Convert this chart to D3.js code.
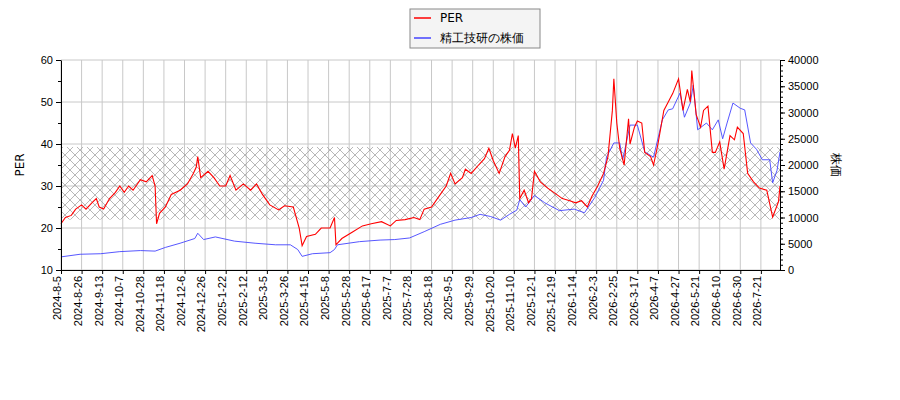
<!DOCTYPE html>
<html><head><meta charset="utf-8">
<script src="https://cdn.jsdelivr.net/npm/d3@7"></script>
<style>body{margin:0;background:#fff}svg{font-family:"DejaVu Sans",sans-serif}</style>
</head><body><svg id="c" width="900" height="400"></svg>
<script>
const tickLabels=["2024-8-5","2024-8-26","2024-9-13","2024-10-7","2024-10-28","2024-11-18","2024-12-6","2024-12-26","2025-1-22","2025-2-12","2025-3-5","2025-3-26","2025-4-15","2025-5-8","2025-5-28","2025-6-17","2025-7-7","2025-7-28","2025-8-18","2025-9-5","2025-9-29","2025-10-20","2025-11-10","2025-12-1","2025-12-19","2026-1-14","2026-2-3","2026-2-25","2026-3-17","2026-4-7","2026-4-27","2026-5-21","2026-6-10","2026-6-30","2026-7-21"];
const tickStep=14, lastDay=489;
const perSeries=[[0,21],[3,22.5],[7,23],[10,24.5],[14,25.5],[17,24.5],[21,26],[24,27],[26,25],[29,24.5],[33,27],[37,28.5],[40,30],[43,28.5],[46,30],[49,29],[54,31.5],[58,31],[62,32.5],[64,30],[65,21],[67,23.5],[71,25],[75,28],[81,29],[86,30.5],[90,33],[92,34.5],[93,37],[95,32],[100,33.5],[104,32],[108,30],[112,30],[115,32.5],[119,29],[124,30.5],[129,29],[133,30.5],[137,28],[142,25.5],[148,24.3],[152,25.3],[158,25],[162,20],[164,15.8],[167,18],[173,18.5],[177,20],[183,20],[186,22.5],[187,16],[191,17.5],[198,19],[205,20.5],[211,21],[218,21.5],[224,20.5],[228,21.8],[234,22],[240,22.5],[244,22],[247,24.5],[252,25],[258,28],[262,30],[265,33],[268,30.5],[273,32],[275,34],[279,33],[284,35],[288,36.5],[291,39],[294,36],[298,33],[302,37],[305,38.5],[307,42.5],[309,39],[311,42],[312,27],[315,29],[318,26],[320,27],[322,33.5],[326,31],[331,29.5],[337,28],[341,27],[346,26.5],[350,26],[354,26.5],[358,25],[361,27.5],[365,30],[369,33],[372,37],[375,48],[376,55.5],[378,45],[380,39],[383,35],[386,46],[387,40],[390,44],[392,45.5],[395,45],[397,38],[401,37],[403,35],[406,40],[410,48],[413,50],[416,52],[420,55.5],[423,48],[426,53],[428,50],[429,57.5],[432,47],[435,44],[437,48],[440,49],[443,38],[445,38],[448,40.5],[451,34],[455,42],[458,41],[460,44],[464,42.5],[467,33],[471,31],[475,29.5],[480,29],[484,22.6],[488,26.3],[489,30]];
const priceSeries=[[0,2500],[13,3000],[27,3100],[40,3500],[54,3700],[64,3600],[71,4300],[81,5100],[91,6000],[93,7000],[97,5800],[105,6300],[118,5500],[132,5100],[146,4800],[156,4800],[161,3900],[164,2600],[171,3100],[183,3300],[186,3900],[188,4800],[203,5400],[217,5700],[227,5800],[237,6100],[247,7300],[258,8700],[268,9500],[279,10000],[285,10600],[292,10200],[299,9500],[305,10600],[310,11400],[312,13400],[316,12000],[322,14200],[329,12800],[339,11300],[349,11600],[356,10900],[363,13800],[369,17100],[371,21500],[376,24200],[380,24200],[382,21000],[387,27600],[392,27600],[397,22500],[403,21500],[409,28600],[413,30500],[416,30700],[421,33700],[424,29100],[428,31800],[430,35200],[433,26700],[439,28000],[443,26700],[447,28600],[450,25000],[453,28000],[457,31800],[462,30800],[465,30500],[469,24200],[473,23000],[477,21000],[482,21000],[484,16600],[487,19000],[489,22500]];
const band=[22,39.3];
const perTicks=[10,20,30,40,50,60], priceTicks=[0,5000,10000,15000,20000,25000,30000,35000,40000];

const svg=d3.select("#c");
const m={l:61,r:780,t:60,b:270};
const x=d3.scaleLinear().domain([0,lastDay]).range([m.l,m.r]);
const y=d3.scaleLinear().domain([10,60]).range([m.b,m.t]);
const y2=d3.scaleLinear().domain([0,40000]).range([m.b,m.t]);
const defs=svg.append("defs");
const p=defs.append("pattern").attr("id","hatch").attr("patternUnits","userSpaceOnUse").attr("width",10).attr("height",10);
p.append("path").attr("d","M0,0L10,10M10,0L0,10").attr("stroke","#999").attr("stroke-width",0.7);
const tickDays=tickLabels.map((_,i)=>i*tickStep);
const g=svg.append("g");
g.selectAll(".vg").data(tickDays).join("line").attr("x1",d=>x(d)).attr("x2",d=>x(d)).attr("y1",m.t).attr("y2",m.b).attr("stroke","#c8c8c8");
g.selectAll(".hg").data(perTicks).join("line").attr("x1",m.l).attr("x2",m.r).attr("y1",d=>y(d)).attr("y2",d=>y(d)).attr("stroke","#c8c8c8");
g.append("rect").attr("x",m.l).attr("width",m.r-m.l).attr("y",y(band[1])).attr("height",y(band[0])-y(band[1])).attr("fill","url(#hatch)");
const line=(ys)=>d3.line().x(d=>x(d[0])).y(d=>ys(d[1]));
g.append("path").datum(priceSeries).attr("d",line(y2)).attr("fill","none").attr("stroke","#4444ff").attr("stroke-width",0.9);
g.append("path").datum(perSeries).attr("d",line(y)).attr("fill","none").attr("stroke","red").attr("stroke-width",1.1);
const ax=svg.append("g").attr("transform",`translate(0,${m.b})`).call(d3.axisBottom(x).tickValues(tickDays).tickFormat((d,i)=>tickLabels[i]).tickSize(4).tickSizeOuter(0));
ax.selectAll("text").attr("transform","rotate(-90)").attr("text-anchor","end").attr("x",-6).attr("y",-4).attr("dy","0.35em").style("font-size","11px");
const yl=svg.append("g").attr("transform",`translate(${m.l},0)`).call(d3.axisLeft(y).tickValues(perTicks).tickSize(5).tickSizeOuter(0));
yl.selectAll("text").style("font-size","11px");
svg.append("g").attr("transform",`translate(${m.l},0)`).call(d3.axisLeft(y).tickValues(d3.range(15,60,10)).tickSize(3).tickFormat("")).select(".domain").remove();
const yr=svg.append("g").attr("transform",`translate(${m.r},0)`).call(d3.axisRight(y2).tickValues(priceTicks).tickFormat(d3.format("d")).tickSize(5).tickSizeOuter(0));
yr.selectAll("text").style("font-size","11px");
svg.append("g").attr("transform",`translate(${m.r},0)`).call(d3.axisRight(y2).tickValues(d3.range(1000,40000,1000)).tickSize(3).tickFormat("")).select(".domain").remove();
svg.selectAll(".domain,.tick line").attr("stroke","#000");
svg.append("text").attr("transform","translate(24,165) rotate(-90)").attr("text-anchor","middle").style("font-size","12px").text("PER");
svg.append("text").attr("transform","translate(832,165) rotate(90)").attr("text-anchor","middle").style("font-size","12px").text("株価");
const lg=svg.append("g");
lg.append("rect").attr("x",410).attr("y",9).attr("width",130).attr("height",39).attr("fill","#f4f4f4").attr("stroke","#888");
[["PER","red"],["精工技研の株価","#4444ff"]].forEach((e,i)=>{
 lg.append("line").attr("x1",414).attr("x2",431).attr("y1",18+i*20).attr("y2",18+i*20).attr("stroke",e[1]).attr("stroke-width",1.5);
 lg.append("text").attr("x",440).attr("y",22+i*20).style("font-size","12px").text(e[0]);
});
</script></body></html>
